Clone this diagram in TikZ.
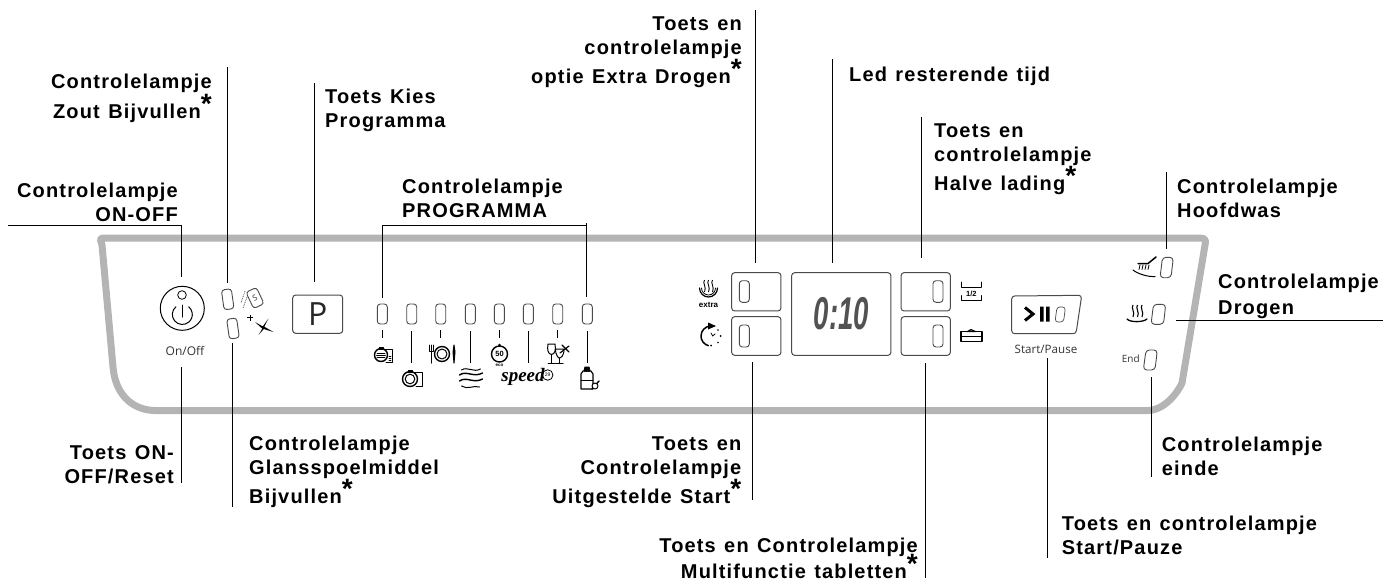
\documentclass[tikz,border=0pt]{standalone}
\usepackage{fontspec}
\setmainfont{Liberation Sans}
\newfontfamily\panelfont{Open Sans}
\newfontfamily\labfont[LetterSpace=5.8,WordSpace=1.25]{Liberation Sans Bold}
\newfontfamily\speedfont{Liberation Serif Bold Italic}
\newfontfamily\dispfont[FakeStretch=0.6]{Liberation Sans Bold Italic}
\definecolor{panelgrey}{HTML}{B4B4B4}
\definecolor{ledgrey}{HTML}{4A4A4A}
\tikzset{
 labeltext/.style={font=\labfont\fontsize{20}{24}\selectfont,inner sep=0pt,text depth=0pt},
 leader/.style={draw=black,line width=1pt},
 ledbox/.style={draw=ledgrey,line width=0.9pt,rounded corners=3pt},
 keybox/.style={draw=ledgrey,line width=1pt,rounded corners=3pt},
 icon/.style={draw=black,line width=1pt,line cap=round,line join=round},
 paneltext/.style={font=\panelfont,text=black!80,inner sep=0pt},
}
\newcommand{\Ast}{\smash{\raisebox{5pt}{\fontsize{28}{28}\selectfont *}}}
\begin{document}
\begin{tikzpicture}[x=1pt,y=-1pt]
\useasboundingbox (0,0) rectangle (1383,582);
% panel
\draw[panelgrey,line width=7pt,line join=round]
 (102,245) .. controls (101,240) and (98,238) .. (105,238) -- (1200,238)
 .. controls (1206,238) and (1206,241) .. (1205,245)
 -- (1182,383) .. controls (1178,392) and (1165,410) .. (1148,410.5)
 -- (155,410.5) .. controls (130,410) and (115,392) .. (113,367) -- cycle;
% leader anchors
\foreach \n/\x/\y in {a1/8/225.7,a2/181.3/225.7,a3/181.3/277,b1/227/67,b2/227/283,c1/314/83,c2/314/282,
 d1/382.3/225.7,d2/382.3/298,d3/586.7/225.7,d4/586.7/223,d5/586.7/297,
 e1/755.5/10,e2/755.5/263,f1/832/59,f2/832/263,g1/921.3/117,g2/921.3/258,h1/1166.7/172,h2/1166.7/249,
 i1/1176/320,i2/1383/320,j1/1151/377,j2/1151/477,k1/1047.7/358,k2/1047.7/558,
 l1/925.3/363,l2/925.3/578,m1/752.7/362,m2/752.7/500,n1/232.7/343,n2/232.7/507,o1/181/367,o2/181/483}
 {\coordinate (\n) at (\x,\y);}
\draw[leader] (a1) -- (a2) -- (a3);
\draw[leader] (b1) -- (b2);
\draw[leader] (c1) -- (c2);
\draw[leader] (d2) -- (d1) -- (d3);
\draw[leader] (d4) -- (d5);
\draw[leader] (e1) -- (e2);
\draw[leader] (f1) -- (f2);
\draw[leader] (g1) -- (g2);
\draw[leader] (h1) -- (h2);
\draw[leader] (i1) -- (i2);
\draw[leader] (j1) -- (j2);
\draw[leader] (k1) -- (k2);
\draw[leader] (l1) -- (l2);
\draw[leader] (m1) -- (m2);
\draw[leader] (n1) -- (n2);
\draw[leader] (o1) -- (o2);
% labels
\node[labeltext,align=right,anchor=base east] (tzout) at (212,118) {Controlelampje\\[6pt]Zout Bijvullen\Ast};
\node[labeltext,align=right,anchor=base east] (tonoff) at (178,221) {Controlelampje\\ON-OFF};
\node[labeltext,align=left,anchor=base west] (tkies) at (325,127) {Toets Kies\\Programma};
\node[labeltext,align=left,anchor=base west] (tprog) at (402,217) {Controlelampje\\PROGRAMMA};
\node[labeltext,align=right,anchor=base east] (textra) at (742,83) {Toets en\\controlelampje\\[5pt]optie Extra Drogen\Ast};
\node[labeltext,anchor=base west] (tled) at (849,81) {Led resterende tijd};
\node[labeltext,align=left,anchor=base west] (thalve) at (934,190) {Toets en\\controlelampje\\[5pt]Halve lading\Ast};
\node[labeltext,align=left,anchor=base west] (thoofd) at (1177,217) {Controlelampje\\Hoofdwas};
\node[labeltext,align=left,anchor=base west] (tdrogen) at (1218,314) {Controlelampje\\[2pt]Drogen};
\node[labeltext,align=left,anchor=base west] (teinde) at (1161.7,475) {Controlelampje\\einde};
\node[labeltext,align=left,anchor=base west] (tstart) at (1061.7,554) {Toets en controlelampje\\Start/Pauze};
\node[labeltext,align=right,anchor=base east] (tmulti) at (918,578) {Toets en Controlelampje\\[2pt]Multifunctie tabletten\Ast};
\node[labeltext,align=right,anchor=base east] (tuit) at (741.5,503) {Toets en\\Controlelampje\\[5pt]Uitgestelde Start\Ast};
\node[labeltext,align=left,anchor=base west] (tglans) at (249,503) {Controlelampje\\Glansspoelmiddel\\[5pt]Bijvullen\Ast};
\node[labeltext,align=right,anchor=base east] (treset) at (174,483) {Toets ON-\\OFF/Reset};
% on/off
\node[draw=black,line width=1pt,circle,minimum size=44pt,inner sep=0pt] (onkey) at (182.3,308.3) {};
\node[draw=black,line width=0.8pt,circle,minimum size=8.6pt,inner sep=0pt] (onled) at (182,295) {};
\draw[icon] (175.9,306.8) arc[start angle=-130,end angle=-410,radius=10];
\draw[icon] (182.3,305) -- (182.3,317);
\node[paneltext,font=\panelfont\fontsize{12}{12}\selectfont] (ontext) at (185,351) {On/Off};
% salt & rinse
\node[ledbox,minimum width=10pt,minimum height=20pt,inner sep=0pt,rotate=8] (saltled) at (227.7,299.3) {};
\node[ledbox,minimum width=10pt,minimum height=20pt,inner sep=0pt,rotate=8] (rinseled) at (233,328.5) {};
\node[ledbox,fill=white,minimum width=11.5pt,minimum height=18pt,inner sep=0pt,rotate=25,font=\panelfont\fontsize{8}{8}\selectfont,text=black!80] (salttag) at (255,298) {S};
\draw[line width=0.8pt,black!70,densely dotted] (245,291) -- (241,303);
\draw[line width=0.8pt,black!70,densely dotted] (247,297) -- (243,308);
\fill (268.5,318.5) -- (264.3,326.7) -- (273.5,332) -- (263.8,329) -- (258.5,335) -- (262.3,328.7) -- (255,322) -- (262.8,326.4) -- cycle;
\draw[line width=0.5pt] (247,317.5) -- (253,317.5) (250,314.5) -- (250,320.5);
% P
\node[keybox,minimum width=50pt,minimum height=38.3pt,inner sep=0pt,text=black!85,font=\panelfont\fontsize{32}{32}\selectfont] (pkey) at (317.7,314.2) {P};
% program leds
\foreach \i/\x in {1/382.3,2/411.7,3/440.7,4/470.3,5/499.3,6/528.3,7/557.7,8/587.3}
 {\node[ledbox,minimum width=10pt,minimum height=20pt,inner sep=0pt] (p\i) at (\x,314) {};}
\foreach \x in {382.3,440.7,499.3,557.7} {\coordinate (sa) at (\x,330); \coordinate (sb) at (\x,338); \draw[leader] (sa) -- (sb);}
\foreach \x in {411.7,470.3,528.3,587.3} {\coordinate (sa) at (\x,331); \coordinate (sb) at (\x,363); \draw[leader] (sa) -- (sb);}
% icon 1
\begin{scope}[shift={(381,355)}]
\draw[icon,line width=1.4pt] (0,0) circle (6.5);
\draw[icon,line width=0.8pt] (-4,-2) -- (4,-2) (-4.5,0) -- (4.5,0) (-4,2) -- (4,2);
\draw[icon] (-4,-6) -- (11,-6) -- (11,7) -- (5,7);
\draw[icon,fill=black] (-2,-8) rectangle (2,-6);
\draw[icon,line width=0.6pt] (8,1) -- (10,1) (8,3) -- (10,3) (8,5) -- (10,5);
\end{scope}
% icon 2
\begin{scope}[shift={(410,379)}]
\draw[icon,line width=1.4pt] (0,0) circle (7.5);
\draw[icon] (0,0) circle (4.8);
\draw[icon] (-4,-7) -- (12,-7) -- (12,7) -- (6,7);
\draw[icon,fill=black] (-2,-9) rectangle (2,-7);
\end{scope}
% icon 3
\begin{scope}[shift={(442,354)}]
\draw[icon,line width=1.4pt] (0,0) circle (7.5);
\draw[icon] (0,0) circle (5);
\draw[icon] (-13,-9) -- (-13,-3) -- (-9,-3) -- (-9,-9) (-11,-9) -- (-11,9);
\draw[icon,fill=black] (12,-9) -- (13,-2) -- (12,9) -- (11,-2) -- cycle;
\end{scope}
% icon 4
\begin{scope}[shift={(470.5,378)}]
\draw[icon] (-9,-8) .. controls (-3,-12) and (3,-5) .. (10,-9);
\draw[icon,line width=1.4pt] (-11,-3) .. controls (-4,-8) and (3,0) .. (12,-5);
\draw[icon,line width=1.4pt] (-11,3) .. controls (-4,-2) and (3,6) .. (12,1);
\draw[icon] (-9,8) .. controls (-3,12) and (3,7) .. (9,9);
\end{scope}
% icon 5
\node[draw=black,line width=1.4pt,circle,minimum size=16pt,inner sep=0pt,font=\bfseries\fontsize{7.5}{8}\selectfont] (i50) at (499.5,354) {50};
\fill (499.5,345) circle (1.5);
\node[inner sep=0pt,font=\bfseries\fontsize{4.5}{5}\selectfont] (ieco) at (499.5,365) {eco};
% icon 6
\node[inner sep=0pt,font=\speedfont\fontsize{19}{19}\selectfont] (ispeed) at (523,377) {speed};
\node[draw=black,line width=0.8pt,circle,minimum size=10.5pt,inner sep=0pt,font=\fontsize{5}{5}\selectfont] (i29) at (547.7,375) {29};
% icon 7
\draw[icon] (548,344) -- (555,344) .. controls (556,350) and (555,354) .. (551.5,354.5) .. controls (548,354) and (547,350) .. (548,344) -- cycle;
\draw[icon] (551.5,354.5) -- (551.5,363) (548,363.5) -- (555,363.5);
\draw[icon] (555.5,349) .. controls (555.5,356) and (559,358) .. (559,358) .. controls (561,358) and (564,356) .. (564,349) -- cycle;
\draw[icon] (559,358) -- (559,363) (555.5,363.5) -- (563,363.5);
\draw[icon,line width=1.2pt] (560,353) -- (569,346) (562,345) -- (569,352);
% icon 8
\begin{scope}[shift={(587,378)}]
\draw[icon,line width=1.2pt] (-6,-4) -- (-4,-7) -- (4,-7) -- (6,-4) -- (6,11) -- (-6,11) -- cycle;
\draw[icon,fill=black] (-3,-7) -- (-2,-11) -- (2,-11) -- (3,-7) -- cycle;
\draw[icon,line width=0.8pt] (-6,2) -- (6,2);
\draw[icon,line width=1.4pt] (5,11) -- (12,3);
\draw[icon,fill=white] (8,8) circle (3);
\end{scope}
% boxes
\node[keybox,minimum width=49.3pt,minimum height=38.3pt,inner sep=0pt] (bTL) at (756.3,291.8) {};
\node[keybox,minimum width=49.3pt,minimum height=38.6pt,inner sep=0pt] (bBL) at (756.3,336) {};
\node[ledbox,minimum width=10pt,minimum height=21.6pt,inner sep=0pt] (lTL) at (744.3,291.5) {};
\node[ledbox,minimum width=10pt,minimum height=22pt,inner sep=0pt] (lBL) at (744.3,336) {};
\node[keybox,minimum width=99.3pt,minimum height=82.6pt,inner sep=0pt,text=black!68,font=\dispfont\fontsize{46}{46}\selectfont] (disp) at (841.3,314) {0:10};
\node[keybox,minimum width=49.3pt,minimum height=38.3pt,inner sep=0pt] (bTR) at (925.7,291.8) {};
\node[keybox,minimum width=49.3pt,minimum height=38.6pt,inner sep=0pt] (bBR) at (925.7,336) {};
\node[ledbox,minimum width=10pt,minimum height=21.6pt,inner sep=0pt] (lTR) at (938,291.5) {};
\node[ledbox,minimum width=10pt,minimum height=22pt,inner sep=0pt] (lBR) at (938,336) {};
% extra icon
\draw[icon,line width=1.2pt] (699.5,288) arc[start angle=180,end angle=0,radius=9];
\draw[icon,line width=0.8pt] (701.5,288) arc[start angle=180,end angle=0,radius=7];
\foreach \d in {704.5,708.5,712.5} {\draw[line width=0.9pt] (\d,280) .. controls (\d-2.5,283) and (\d+2.5,287) .. (\d,292);}
\node[inner sep=0pt,font=\bfseries\fontsize{8}{8}\selectfont] (iextra) at (708.5,304.5) {extra};
% delay icon
\draw[icon,line width=1.5pt] (711,326) arc[start angle=-90,end angle=-255,radius=10];
\fill (708,322.5) -- (716,326) -- (708,329.5) -- cycle;
\draw[icon,line width=0.8pt] (711,333) -- (712.7,336) -- (715,334);
\fill (718,330) circle (0.9) (720.5,336) circle (1) (711,345.5) circle (1) (718,342.5) circle (0.9);
% half icon
\draw[icon] (961.7,282) -- (961.7,287) (981,282) -- (981,287) (961.7,287) -- (981,287);
\draw[icon] (961.7,295.5) -- (961.7,300.5) -- (981,300.5) -- (981,295.5);
\node[inner sep=0pt,font=\bfseries\fontsize{7.5}{8}\selectfont] (ihalf) at (971.3,294) {1/2};
% tablet icon
\draw[icon,line width=1.3pt] (961,331.7) rectangle (982,341.7);
\draw[icon] (961,336) -- (982,336);
\draw[icon,fill=black!60] (967,331.7) -- (971,329.5) -- (976,331.7) -- cycle;
% start
\draw[keybox] (1011.7,296) -- (1081.7,295.3) -- (1076,333.7) -- (1011.7,333.7) -- cycle;
\draw[line width=3pt,black] (1025,307.5) -- (1033,314) -- (1025,320.5);
\fill (1040,306.5) rectangle (1043.5,321.5) (1046,306.5) rectangle (1049.5,321.5);
\draw[ledbox,line width=0.7pt] (1057,307) -- (1065.5,307) -- (1063.5,322) -- (1055,322) -- cycle;
\node[paneltext,font=\panelfont\fontsize{11.6}{12}\selectfont] (starttext) at (1046,349) {Start/Pause};
% slanted leds
\draw[ledbox,line width=0.9pt,rounded corners=3.5pt] (1162.5,257.3) -- (1173.3,257.3) -- (1171,277.7) -- (1160,277.7) -- cycle;
\draw[ledbox,line width=0.9pt,rounded corners=3.5pt] (1153.5,304.3) -- (1165.7,304.3) -- (1163.5,324.3) -- (1151,324.3) -- cycle;
\draw[ledbox,line width=0.9pt,rounded corners=3.5pt] (1146,350) -- (1157.3,350) -- (1155,370) -- (1143.3,370) -- cycle;
\node[paneltext,font=\panelfont\fontsize{10}{10}\selectfont] (endtext) at (1130.7,359) {End};
% brush icon
\draw[icon] (1133,270) .. controls (1138,274) and (1148,277) .. (1155,276.5);
\draw[icon,line width=1.5pt] (1138,263.5) -- (1148,263.5) -- (1156,257);
\draw[icon,line width=0.8pt] (1140,265) -- (1139,269.5) (1143,265) -- (1142,269.5) (1146,265) -- (1145,269.5) (1149,265) -- (1148,269.5);
% steam icon
\foreach \d in {1133,1137.5,1142} {\draw[line width=1.1pt] (\d,305) .. controls (\d-2.5,308) and (\d+2.5,312) .. (\d,317);}
\draw[icon,line width=1.3pt] (1127,319) .. controls (1130,322.5) and (1143,322.5) .. (1147,319);
\end{tikzpicture}
\end{document}
